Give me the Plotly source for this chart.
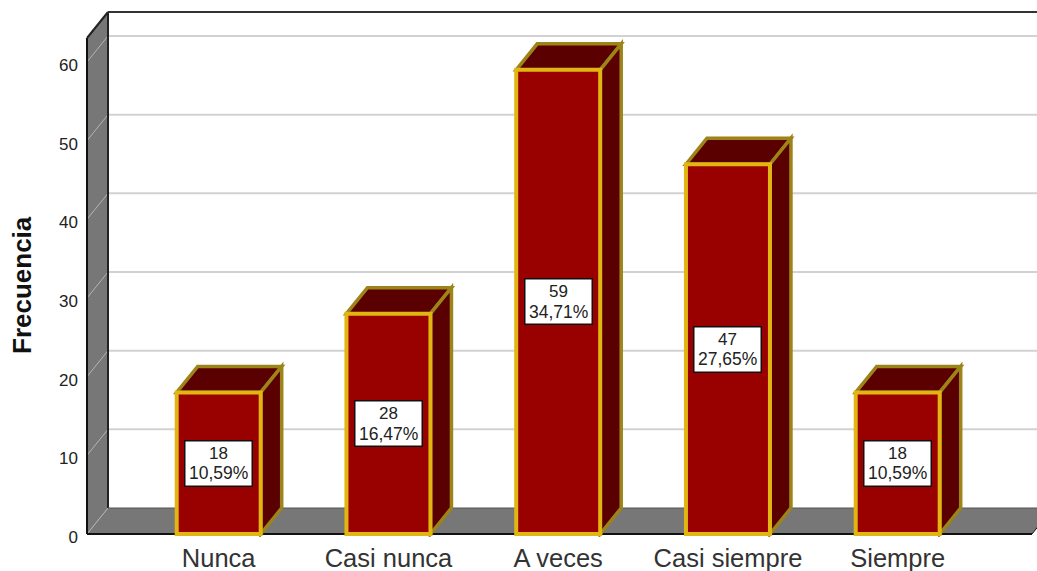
import plotly.graph_objects as go

categories = ["Nunca", "Casi nunca", "A veces", "Casi siempre", "Siempre"]
values = [18, 28, 59, 47, 18]
percent_labels = ["10,59%", "16,47%", "34,71%", "27,65%", "10,59%"]
y_ticks = [0, 10, 20, 30, 40, 50, 60]

W, H = 1037, 571
PX_X = 169.75          # pixels per category
PX_Y = 7.867           # pixels per unit
X0_PX, Y0_PX = 218.7, 534
DX = 21 / PX_X         # depth of the fake 3D box
DY = 26 / PX_Y
BAR_W = 84 / PX_X
FONT = "Liberation Sans"

plot_l, plot_r, plot_t, plot_b = 85, W, 10, 537
x_range = [(plot_l - X0_PX) / PX_X, (plot_r - X0_PX) / PX_X]
y_range = [(Y0_PX - plot_b) / PX_Y, (Y0_PX - plot_t) / PX_Y]

WALL_L = (87 - X0_PX) / PX_X
FLOOR_R = (1032 - X0_PX) / PX_X
WALL_TOP = (Y0_PX - 38) / PX_Y

GOLD = "#e2b612"
DARK_GOLD = "#9c8418"
FRONT = "#990000"
DARK = "#5a0000"
GRAY = "#777777"

xs = list(range(len(categories)))


def poly(points, fill, line=None, width=0):
    path = "M " + " L ".join(f"{x},{y}" for x, y in points) + " Z"
    return dict(type="path", path=path, xref="x", yref="y", layer="below",
                fillcolor=fill, line=dict(color=line or fill, width=width))


def seg(x1, y1, x2, y2, color, width):
    return dict(type="line", x0=x1, y0=y1, x1=x2, y1=y2, xref="x", yref="y",
                layer="below", line=dict(color=color, width=width))


shapes = []
# walls
shapes.append(poly([(WALL_L, 0), (WALL_L + DX, DY), (WALL_L + DX, WALL_TOP + DY), (WALL_L, WALL_TOP)], GRAY))
shapes.append(poly([(WALL_L, 0), (WALL_L + DX, DY), (FLOOR_R + DX, DY), (FLOOR_R, 0)], GRAY))
# gridlines
for t in y_ticks:
    shapes.append(seg(WALL_L, t, WALL_L + DX, t + DY, "#b4b4b4", 1))
    if t > 0:
        shapes.append(seg(WALL_L + DX, t + DY, x_range[1], t + DY, "#d2d2d2", 2))
# frame
shapes.append(seg(WALL_L, 0, WALL_L, WALL_TOP, "#111111", 2))
shapes.append(seg(WALL_L, WALL_TOP, WALL_L + DX, WALL_TOP + DY, "#222222", 2))
shapes.append(seg(WALL_L + DX, DY, WALL_L + DX, WALL_TOP + DY, "#222222", 2))
shapes.append(seg(WALL_L + DX, WALL_TOP + DY, x_range[1], WALL_TOP + DY, "#333333", 2))
shapes.append(seg(WALL_L, 0, FLOOR_R, 0, "#111111", 2))
shapes.append(seg(FLOOR_R, 0, FLOOR_R + DX, DY, "#111111", 1))
shapes.append(seg(WALL_L + DX, DY, x_range[1], DY, "#555555", 1))

# 3D sides of each bar
for x, v in zip(xs, values):
    l, r = x - BAR_W / 2, x + BAR_W / 2
    shapes.append(poly([(l, v), (l + DX, v + DY), (r + DX, v + DY), (r, v)], DARK, DARK_GOLD, 3.5))
    shapes.append(poly([(r, 0), (r + DX, DY), (r + DX, v + DY), (r, v)], DARK, DARK_GOLD, 3.5))

fig = go.Figure(go.Bar(
    x=xs, y=values, width=BAR_W, cliponaxis=False,
    marker=dict(color=FRONT, line=dict(color=GOLD, width=4)),
    hoverinfo="skip",
))

annotations = []
for x, v, p in zip(xs, values, percent_labels):
    common = dict(x=x, y=v / 2, xref="x", yref="y", showarrow=False)
    annotations.append(dict(common, text=" ", width=66, height=44, bgcolor="white",
                            bordercolor="#111111", borderwidth=1.5, borderpad=0,
                            font=dict(size=10)))
    annotations.append(dict(common, text=str(v), yshift=10,
                            font=dict(family=FONT, size=17, color="#222222")))
    annotations.append(dict(common, text=p, yshift=-10,
                            font=dict(family=FONT, size=17.5, color="#222222")))
plot_w, plot_h = plot_r - plot_l, plot_b - plot_t
annotations.append(dict(text="<b>Frecuencia</b>", x=(22 - plot_l) / plot_w, y=(plot_b - 285) / plot_h,
                        xref="paper", yref="paper", showarrow=False, textangle=-90,
                        xanchor="center", yanchor="middle",
                        font=dict(family=FONT, size=26, color="#111111")))

fig.update_layout(
    width=W, height=H, autosize=False,
    margin=dict(l=plot_l, r=W - plot_r, t=plot_t, b=H - plot_b, pad=0, autoexpand=False),
    plot_bgcolor="white", paper_bgcolor="white", showlegend=False,
    shapes=shapes, annotations=annotations,
    xaxis=dict(range=x_range, tickmode="array", tickvals=xs, ticktext=categories,
               automargin=False, showgrid=False, zeroline=False, showline=False, ticks="",
               ticklabelstandoff=3,
               tickfont=dict(family=FONT, size=25.5, color="#333333")),
    yaxis=dict(range=y_range, tickmode="array", tickvals=y_ticks,
               automargin=False, showgrid=False, zeroline=False, showline=False, ticks="",
               ticklabelstandoff=6, ticklabelshift=3,
               tickfont=dict(family=FONT, size=17, color="#222222")),
)

fig.write_html("out.html", config={"displayModeBar": False},
               post_script="document.body.style.margin='0';document.body.style.overflow='hidden';")
